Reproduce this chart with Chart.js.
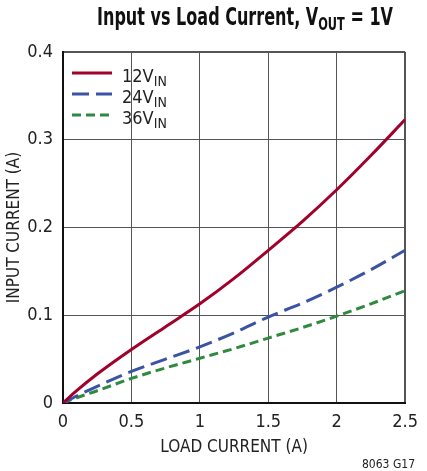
<!DOCTYPE html>
<html>
<head>
<meta charset="utf-8">
<script src="https://cdn.jsdelivr.net/npm/chart.js@4.4.0/dist/chart.umd.min.js"></script>
<style>
  html, body { margin: 0; padding: 0; background: #fff; }
  #wrap { position: relative; width: 427px; height: 471px; overflow: hidden; }
  #title { position: absolute; left: 245px; top: 3px; white-space: nowrap;
           font: bold 24px "DejaVu Sans Condensed", "Liberation Sans", sans-serif; color: #111;
           transform-origin: 0 0; }
  #title sub { font-size: 17px; vertical-align: -5px; line-height: 0; }
  #note { position: absolute; right: 12px; top: 457px;
          font: 12px "DejaVu Sans Condensed", "Liberation Sans", sans-serif; color: #222; }
</style>
</head>
<body>
<div id="wrap">
  <span id="title">Input vs Load Current, V<sub>OUT</sub> = 1V</span>
  <canvas id="chart"></canvas>
  <div id="note">8063 G17</div>
</div>
<script>
// values (A)
const loadCurrent = [0, 0.1, 0.25, 0.5, 0.75, 1, 1.25, 1.5, 1.75, 2, 2.25, 2.5];
const vin12 = [0, 0.014, 0.033, 0.061, 0.087, 0.113, 0.142, 0.174, 0.207, 0.243, 0.282, 0.323];
const vin24 = [0, 0.008, 0.019, 0.036, 0.050, 0.064, 0.080, 0.098, 0.114, 0.132, 0.152, 0.174];
const vin36 = [0, 0.006, 0.014, 0.028, 0.040, 0.051, 0.062, 0.074, 0.086, 0.099, 0.113, 0.128];
const seriesNames = ['12V', '24V', '36V'];
const xTicks = [0, 0.5, 1, 1.5, 2, 2.5];
const yTicks = [0, 0.1, 0.2, 0.3, 0.4];

const FONT = '"DejaVu Sans Condensed", "Liberation Sans", sans-serif';

// squeeze the title to the narrow look of the original
const title = document.getElementById('title');
const tw = title.getBoundingClientRect().width;
const sx = 296 / tw;
title.style.transform = 'translateX(' + (-148) + 'px) scaleX(' + sx + ')';

function pts(ys) {
    return loadCurrent.map((x, i) => ({ x: x, y: ys[i] }));
}

const data = {
    datasets: [
        { label: '12VIN', data: pts(vin12), borderColor: '#a0022c', borderWidth: 3 },
        { label: '24VIN', data: pts(vin24), borderColor: '#3a53a4', borderWidth: 3, borderDash: [17, 7] },
        { label: '36VIN', data: pts(vin36), borderColor: '#2f8a40', borderWidth: 3, borderDash: [9, 5] }
    ]
};

// legend with subscripts, drawn inside the plot
const subLegend = {
    id: 'subLegend',
    afterDatasetsDraw(chart) {
        const ctx = chart.ctx;
        const a = chart.chartArea;
        chart.data.datasets.forEach((ds, i) => {
            const y = a.top + 21 + i * 21;
            const x0 = a.left + 9;
            ctx.save();
            ctx.strokeStyle = ds.borderColor;
            ctx.lineWidth = 3;
            ctx.setLineDash(ds.borderDash || []);
            ctx.beginPath();
            ctx.moveTo(x0, y);
            ctx.lineTo(x0 + 40, y);
            ctx.stroke();
            ctx.setLineDash([]);
            ctx.fillStyle = '#222';
            ctx.textBaseline = 'alphabetic';
            ctx.font = '18px ' + FONT;
            ctx.fillText(seriesNames[i], x0 + 50, y + 9);
            const w = ctx.measureText(seriesNames[i]).width;
            ctx.font = '14px ' + FONT;
            ctx.fillText('IN', x0 + 50 + w, y + 13);
            ctx.restore();
        });
    }
};

const config = {
    type: 'line',
    data: data,
    options: {
        responsive: true,
        maintainAspectRatio: false,
        animation: false,
        layout: { padding: { top: 52, right: 12, left: 0, bottom: 0 } },
        elements: { point: { radius: 0 }, line: { cubicInterpolationMode: 'monotone', fill: false } },
        plugins: { legend: { display: false }, tooltip: { enabled: false } },
        scales: {
            x: {
                type: 'linear',
                min: 0, max: 2.5,
                afterBuildTicks: s => { s.ticks = xTicks.map(v => ({ value: v })); },
                afterFit: s => { s.height = 68; },
                ticks: { color: '#222', font: { family: FONT, size: 18 }, padding: 9,
                         callback: v => String(v) },
                grid: { drawTicks: false, color: '#555',
                        lineWidth: c => (c.tick && c.tick.value === 2.5) ? 2 : 1 },
                border: { color: '#111', width: 2 },
                title: { display: true, text: 'LOAD CURRENT (A)', color: '#222',
                         font: { family: FONT, size: 17 }, padding: { top: 0, bottom: 13 } }
            },
            y: {
                min: 0, max: 0.4,
                afterBuildTicks: s => { s.ticks = yTicks.map(v => ({ value: v })); },
                afterFit: s => { s.width = 63; },
                ticks: { color: '#222', font: { family: FONT, size: 18 }, padding: 10,
                         callback: v => String(v) },
                grid: { drawTicks: false, color: '#555',
                        lineWidth: c => (c.tick && c.tick.value === 0.4) ? 2 : 1 },
                border: { color: '#111', width: 2 },
                title: { display: true, text: 'INPUT CURRENT (A)', color: '#222',
                         font: { family: FONT, size: 17 }, padding: { top: 4, bottom: 0 } }
            }
        }
    },
    plugins: [subLegend]
};

const canvas = document.getElementById('chart').getContext('2d');
let chart = new Chart(canvas, config);
</script>
</body>
</html>
